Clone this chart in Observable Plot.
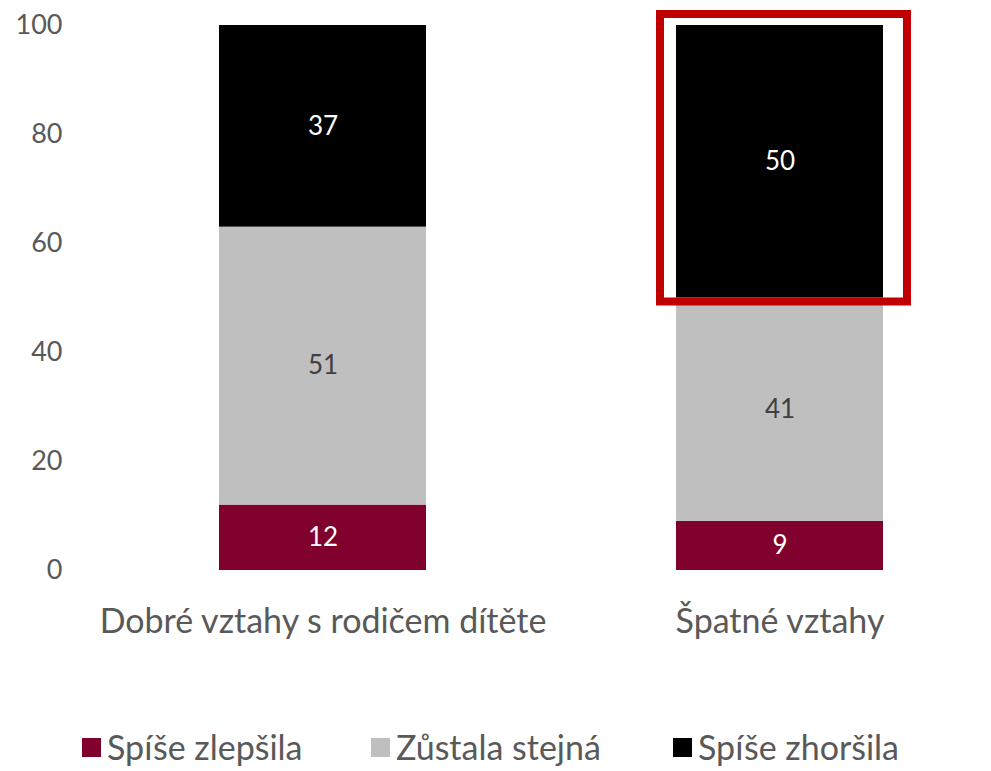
<!DOCTYPE html>
<html><head><meta charset="utf-8">
<script src="https://cdn.jsdelivr.net/npm/d3@7"></script>
<script src="https://cdn.jsdelivr.net/npm/@observablehq/plot@0.6"></script>
<style>
body{margin:0;background:#fff;font-family:Lato,"Noto Sans",sans-serif;overflow:hidden;}
#legend{position:relative;height:71px;color:#595959;font-size:34px;}
.item{position:absolute;top:28px;display:flex;align-items:center;height:38px;line-height:38px;}
.sw{width:19px;height:19px;margin-right:6px;}
</style></head>
<body><div id="chart"></div><div id="legend"></div>
<script>
const categories = ["Dobré vztahy s rodičem dítěte", "Špatné vztahy"];
const series = ["Spíše zlepšila", "Zůstala stejná", "Spíše zhoršila"];
const improved = [12, 9];
const same = [51, 41];
const worse = [37, 50];
const colors = ["#80002e", "#bfbfbf", "#000000"];
const labelColors = ["#ffffff", "#404040", "#ffffff"];
const yTicks = [0, 20, 40, 60, 80, 100];
const highlightCategory = "Špatné vztahy";
const highlightSeries = "Spíše zhoršila";

const vals = [improved, same, worse];
const rows = [];
categories.forEach((c, i) => {
  let acc = 0;
  series.forEach((s, j) => {
    const v = vals[j][i];
    rows.push({cat: c, series: s, value: v, y1: acc, y2: acc + v, color: colors[j], lc: labelColors[j]});
    acc += v;
  });
});
const hl = rows.filter(d => d.cat === highlightCategory && d.series === highlightSeries);

const chart = Plot.plot({
  width: 991, height: 700,
  marginLeft: 94, marginRight: 0, marginTop: 25, marginBottom: 130,
  style: {fontFamily: "Lato, 'Noto Sans', sans-serif", background: "#fff"},
  x: {domain: categories, range: [94, 1008], paddingInner: 0.547, paddingOuter: 0.2735, label: null},
  y: {domain: [0, 100], label: null},
  marks: [
    Plot.ruleY(yTicks, {x1: 94, x2: 991, stroke: "#d9d9d9", strokeWidth: 2}),
    Plot.rectY(rows, {x: "cat", y1: "y1", y2: "y2", fill: "color"}),
    Plot.text(rows, {x: "cat", y: d => (d.y1 + d.y2) / 2, text: d => String(d.value), fill: "lc", fontSize: 26}),
    Plot.rectY(hl, {x: "cat", y1: "y1", y2: "y2", fill: "none", stroke: "#c00000", strokeWidth: 8, insetLeft: -16, insetRight: -24, insetTop: -11, insetBottom: -4}),
    Plot.axisY({ticks: yTicks, tickSize: 0, tickPadding: 32, fontSize: 27, color: "#595959", label: null}),
    Plot.axisX({tickSize: 0, tickPadding: 38, fontSize: 34, color: "#595959", label: null})
  ]
});
document.getElementById("chart").appendChild(chart);

const legend = document.getElementById("legend");
const lefts = [82, 371, 673];
series.forEach((s, j) => {
  const it = document.createElement("div");
  it.className = "item";
  it.style.left = lefts[j] + "px";
  it.innerHTML = `<div class="sw" style="background:${colors[j]}"></div><span>${s}</span>`;
  legend.appendChild(it);
});
</script></body></html>
